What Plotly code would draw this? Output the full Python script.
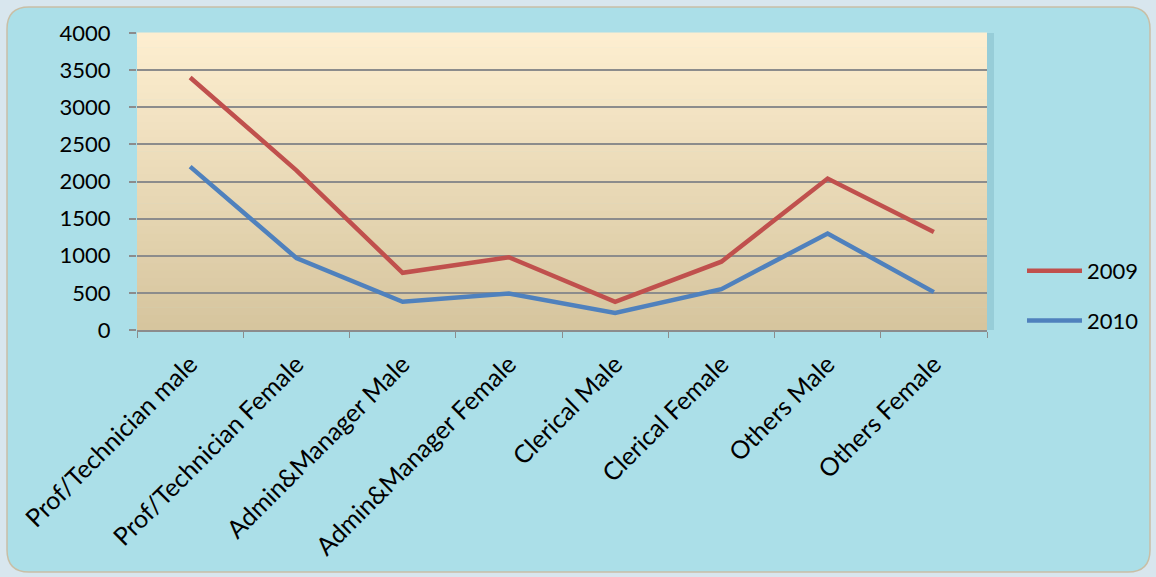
import plotly.graph_objects as go

categories = ["Prof/Technician male", "Prof/Technician Female", "Admin&Manager Male",
              "Admin&Manager Female", "Clerical Male", "Clerical Female",
              "Others Male", "Others Female"]
values_2009 = [3400, 2150, 770, 980, 380, 920, 2040, 1320]
values_2010 = [2200, 970, 380, 490, 230, 550, 1300, 510]
y_ticks = [0, 500, 1000, 1500, 2000, 2500, 3000, 3500, 4000]

W, H = 1156, 577
L, R, T, B = 137, 169, 33, 247
PW, PH = W - L - R, H - T - B

def px(x):
    return (x - L) / PW

def py(y):
    return (H - B - y) / PH

FONT = "Lato, Carlito, 'Open Sans', sans-serif"

fig = go.Figure()
fig.add_trace(go.Scatter(x=categories, y=values_2009, mode="lines", name="2009",
                         line=dict(color="#c0504d", width=4.5), legendgroup="a"))
fig.add_trace(go.Scatter(x=categories, y=values_2010, mode="lines", name="2010",
                         line=dict(color="#4f81bd", width=4.5), legendgroup="b"))

shapes = []
# outer rounded panel
x0, x1, y0, y1, r = px(7), px(1150), py(572), py(7), 22
rx, ry = r / PW, r / PH
path = (f"M {x0+rx},{y0} L {x1-rx},{y0} Q {x1},{y0} {x1},{y0+ry} "
        f"L {x1},{y1-ry} Q {x1},{y1} {x1-rx},{y1} L {x0+rx},{y1} "
        f"Q {x0},{y1} {x0},{y1-ry} L {x0},{y0+ry} Q {x0},{y0} {x0+rx},{y0} Z")
shapes.append(dict(type="path", xref="paper", yref="paper", path=path,
                   fillcolor="#abdfe8", line=dict(color="#c9bfa6", width=1.5), layer="below"))
# shadow next to plot area
shapes.append(dict(type="rect", xref="paper", yref="paper", x0=1.0, x1=px(994), y0=py(330), y1=1.0,
                   fillcolor="rgba(80,140,160,0.22)", line=dict(width=0), layer="below"))
# gradient plot area
n = 40
top = (253, 238, 208)
bot = (214, 197, 158)
for i in range(n):
    t = i / (n - 1)
    c = tuple(int(round(bot[k] + (top[k] - bot[k]) * t)) for k in range(3))
    shapes.append(dict(type="rect", xref="x domain", yref="y domain",
                       x0=0, x1=1, y0=i / n, y1=(i + 1) / n + 0.002,
                       fillcolor=f"rgb{c}", line=dict(width=0), layer="below"))

fig.update_layout(
    width=W, height=H,
    margin=dict(l=L, r=R, t=T, b=B),
    paper_bgcolor="#d8e6ee",
    plot_bgcolor="rgba(0,0,0,0)",
    shapes=shapes,
    font=dict(family=FONT, size=22, color="#000000"),
    showlegend=True,
    legend=dict(x=px(1022), y=py(250), xanchor="left", yanchor="top",
                bgcolor="rgba(0,0,0,0)", font=dict(size=22), tracegroupgap=18,
                itemwidth=55),
    xaxis=dict(showgrid=False, showline=True, linecolor="#8c8c8c", linewidth=1.5,
               ticks="outside", tickson="boundaries", ticklen=6, tickcolor="#8c8c8c",
               tickangle=-45, tickfont=dict(size=25), range=[-0.5, 7.5],
               ticklabelstandoff=8),
    yaxis=dict(range=[0, 4000], tickvals=y_ticks, showgrid=True, gridcolor="#8c8c8c",
               gridwidth=1.5, showline=False, zeroline=False, ticks="outside",
               ticklen=7, tickcolor="#8c8c8c", tickwidth=1.5, tickfont=dict(size=22),
               ticklabelstandoff=14),
)

fig.write_html("out.html", config={"displayModeBar": False},
               post_script="document.body.style.margin='0px';")
